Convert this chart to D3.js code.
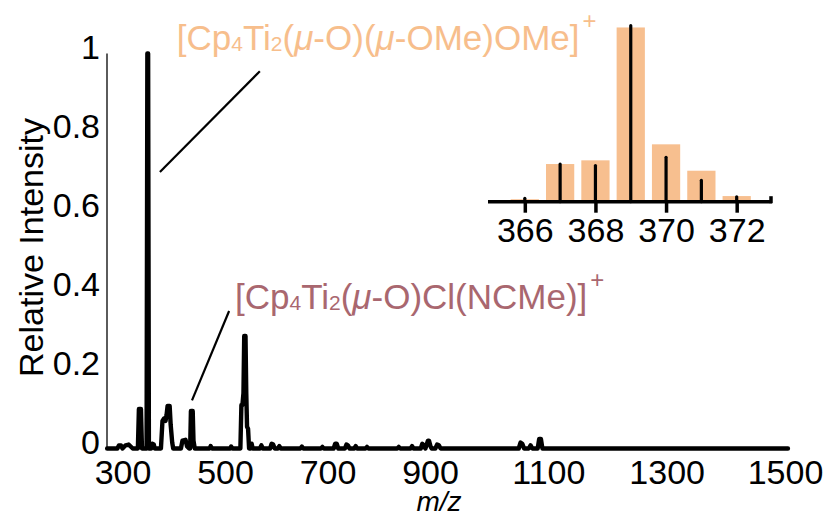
<!DOCTYPE html>
<html>
<head>
<meta charset="utf-8">
<script src="https://cdn.jsdelivr.net/npm/d3@7"></script>
<style>
  html, body { margin: 0; padding: 0; background: #fff; }
  svg { display: block; font-family: "Liberation Sans", Arial, Helvetica, sans-serif; }
</style>
</head>
<body>
<svg id="chart" width="827" height="516"></svg>
<script>
// ---- Data -------------------------------------------------------------
// Full-range ESI mass spectrum profile as [m/z, relative intensity]
const spectrumPoints = [
  [270, 0], [290, 0], [293, 0.008], [297, 0.008], [300, 0], [306, 0.008], [312, 0.01], [316, 0.005], [320, 0],
  [330, 0], [332, 0.1], [336, 0.1], [338, 0],
  [347, 0], [348.5, 1.0], [350, 1.0], [351.5, 0],
  [356, 0], [358, 0.012], [361, 0.01], [363, 0],
  [375, 0], [378, 0.07], [381, 0.076], [384, 0.07], [386, 0.085], [388, 0.108], [392, 0.108], [394, 0.06], [397, 0.015], [399, 0],
  [414, 0], [417, 0.02], [423, 0.022], [426, 0.005], [430, 0],
  [432, 0], [433.5, 0.095], [437, 0.095], [438.5, 0.02], [441, 0],
  [470, 0], [472, 0.006], [475, 0], [510, 0], [512, 0.005], [515, 0],
  [530, 0], [532, 0.11], [534, 0.11], [536, 0.14], [537.5, 0.285], [540, 0.285], [541.5, 0.14], [543, 0.055], [545, 0.05], [547, 0],
  [550, 0], [552, 0.012], [554, 0], [568, 0], [571, 0.008], [574, 0],
  [588, 0], [591, 0.012], [594, 0.01], [597, 0], [603, 0], [606, 0.006], [609, 0],
  [647, 0], [650, 0.005], [653, 0], [687, 0], [690, 0.004], [693, 0],
  [712, 0], [715, 0.012], [718, 0.012], [721, 0], [734, 0], [737, 0.01], [740, 0.008], [743, 0],
  [752, 0], [755, 0.006], [758, 0], [774, 0], [777, 0.004], [780, 0], [836, 0], [839, 0.004], [842, 0],
  [862, 0], [865, 0.006], [868, 0], [882, 0], [885, 0.012], [888, 0.008], [891, 0],
  [896, 0.02], [898, 0.02], [901, 0.005], [903, 0], [909, 0], [912, 0.01], [915, 0.008], [918, 0],
  [1050, 0], [1053, 0.015], [1056, 0.012], [1059, 0], [1067, 0], [1070, 0.008], [1073, 0],
  [1082, 0], [1084.5, 0.024], [1087.5, 0.024], [1090, 0], [1505, 0]
];

// Main axis tick labels
const xTicks = [300, 500, 700, 900, 1100, 1300, 1500];
const yTicks = [0, 0.2, 0.4, 0.6, 0.8, 1];

// Isotope pattern of the base peak (inset)
const isoMz = [366, 367, 368, 369, 370, 371, 372];
const isoSimulated = [0.014, 0.214, 0.235, 0.99, 0.326, 0.176, 0.032];
const isoObserved = [0.019, 0.214, 0.205, 1.0, 0.252, 0.122, 0.028];
const isoTicks = [366, 368, 370, 372];

// Peak assignments: leader line from (mz, intensity) to (mz2, intensity2); text anchored at (tx, ty)
const assignments = [
  { color: "#F7BE8C",
    mz: 373, intensity: 0.70, mz2: 568, intensity2: 0.955, tx: 406, ty: 1.01,
    parts: [["[Cp"], ["4", "sub"], ["Ti"], ["2", "sub"], ["("], ["\u03BC", "it"], ["-O)("], ["\u03BC", "it"], ["-OMe)OMe]"], ["+", "sup"]] },
  { color: "#A9676F",
    mz: 435.6, intensity: 0.122, mz2: 508, intensity2: 0.348, tx: 519.5, ty: 0.352,
    parts: [["[Cp"], ["4", "sub"], ["Ti"], ["2", "sub"], ["("], ["\u03BC", "it"], ["-O)Cl(NCMe)]"], ["+", "sup"]] }
];

// ---- Drawing ----------------------------------------------------------
const svg = d3.select("#chart");
const FONT = "Liberation Sans, Arial, sans-serif";

// m/z axis, piecewise linear across the labelled range
const x = d3.scaleLinear().domain([300, 900, 1500]).range([122.5, 430, 785]);
const y = d3.scaleLinear().domain([0, 1]).range([448.5, 53.5]);
const axisLeftX = 107;

// y axis line
svg.append("line")
  .attr("x1", axisLeftX).attr("x2", axisLeftX)
  .attr("y1", y(0)).attr("y2", y(1))
  .attr("stroke", "#333").attr("stroke-width", 1.6);

// y tick labels
const yAxis = svg.append("g")
  .attr("transform", `translate(${axisLeftX},0)`)
  .call(d3.axisLeft(y).tickValues(yTicks).tickSize(0).tickPadding(7).tickFormat(d3.format("~g")));
yAxis.select(".domain").remove();
yAxis.selectAll("text")
  .attr("dy", 5)
  .attr("font-size", 34)
  .attr("font-family", FONT)
  .attr("fill", "#000");

// x tick labels
const xAxis = svg.append("g")
  .attr("transform", `translate(0,${y(0)})`)
  .call(d3.axisBottom(x).tickValues(xTicks).tickSize(0).tickFormat(d3.format("d")));
xAxis.select(".domain").remove();
xAxis.selectAll("text")
  .attr("y", 35.5).attr("dy", null)
  .attr("font-size", 34)
  .attr("font-family", FONT)
  .attr("fill", "#000");

// Axis titles
svg.append("text")
  .attr("transform", "rotate(-90)")
  .attr("x", -247.5).attr("y", 43)
  .attr("text-anchor", "middle")
  .attr("font-size", 34)
  .text("Relative Intensity");

svg.append("text")
  .attr("x", 439).attr("y", 511)
  .attr("text-anchor", "middle")
  .attr("font-size", 28)
  .attr("font-style", "italic")
  .text("m/z");

// Spectrum trace
svg.append("path")
  .datum(spectrumPoints)
  .attr("d", d3.line().x(d => x(d[0])).y(d => y(d[1])))
  .attr("fill", "none")
  .attr("stroke", "#000")
  .attr("stroke-width", 4.4)
  .attr("stroke-linejoin", "round")
  .attr("stroke-linecap", "round");

// Assignment leader lines and labels
assignments.forEach(a => {
  svg.append("line")
    .attr("x1", x(a.mz)).attr("y1", y(a.intensity))
    .attr("x2", x(a.mz2)).attr("y2", y(a.intensity2))
    .attr("stroke", "#000").attr("stroke-width", 2.2);

  const t = svg.append("text")
    .attr("x", x(a.tx)).attr("y", y(a.ty))
    .attr("font-size", 35)
    .attr("fill", a.color);
  let prevSub = false;
  a.parts.forEach(([s, kind]) => {
    const ts = t.append("tspan").text(s);
    if (kind === "sub") {
      ts.attr("font-size", 21).attr("dy", 1);
    } else if (kind === "sup") {
      ts.attr("font-size", 24).attr("dy", -21).attr("dx", 3);
    } else {
      if (prevSub) ts.attr("dy", -1);
      if (kind === "it") ts.attr("font-style", "italic");
    }
    prevSub = kind === "sub";
  });
});

// ---- Inset: isotope pattern ------------------------------------------
const xi = d3.scaleLinear().domain([365, 373]).range([489.5, 772]);
const yi = d3.scaleLinear().domain([0, 1]).range([201.7, 25.7]);
const barW = (xi(366) - xi(365)) * 0.8;

const inset = svg.append("g");

inset.selectAll("rect.sim")
  .data(isoMz)
  .join("rect")
  .attr("class", "sim")
  .attr("x", d => xi(d) - barW / 2)
  .attr("width", barW)
  .attr("y", (d, i) => yi(isoSimulated[i]))
  .attr("height", (d, i) => yi(0) - yi(isoSimulated[i]))
  .attr("fill", "#F7BF8F");

inset.selectAll("line.obs")
  .data(isoMz)
  .join("line")
  .attr("class", "obs")
  .attr("x1", d => xi(d)).attr("x2", d => xi(d))
  .attr("y1", yi(0))
  .attr("y2", (d, i) => yi(isoObserved[i]))
  .attr("stroke", "#000")
  .attr("stroke-width", 3.2)
  .attr("stroke-linecap", "round");

const insetAxis = inset.append("g")
  .attr("transform", `translate(0,${yi(0)})`)
  .call(d3.axisBottom(xi).tickValues(isoTicks).tickSize(11).tickSizeOuter(0).tickFormat(d3.format("d")));
insetAxis.select(".domain")
  .attr("d", `M${xi.range()[0] - 1.5},0H${xi.range()[1]}`)
  .attr("stroke", "#000").attr("stroke-width", 3.5);
insetAxis.selectAll(".tick line").attr("stroke", "#000").attr("stroke-width", 3.5);
insetAxis.selectAll("text")
  .attr("y", 40).attr("dy", null)
  .attr("font-size", 34)
  .attr("font-family", FONT)
  .attr("fill", "#000");
// closing tick at the end of the inset axis
inset.append("line")
  .attr("x1", xi(373) - 1).attr("x2", xi(373) - 1)
  .attr("y1", yi(0) + 1.5).attr("y2", yi(0) - 5.5)
  .attr("stroke", "#000").attr("stroke-width", 3.5);
</script>
</body>
</html>
